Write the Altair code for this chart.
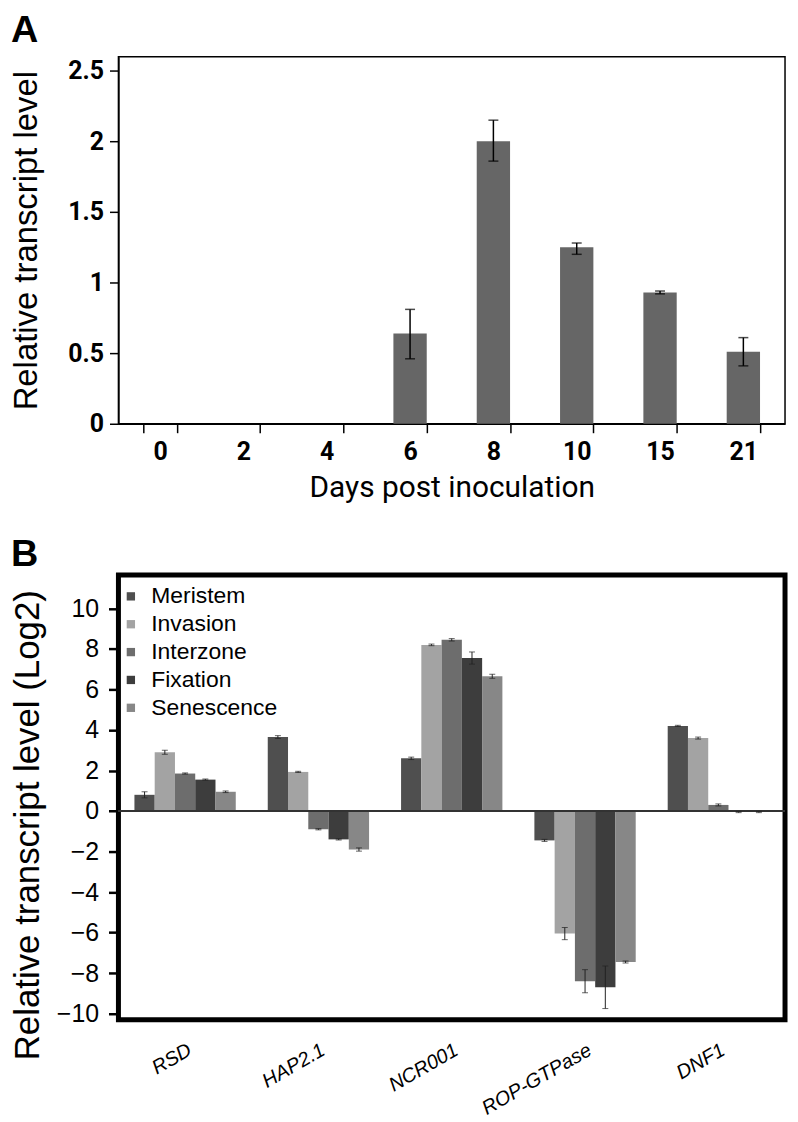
import altair as alt
import pandas as pd

# panel A: time course
days = ["0", "2", "4", "6", "8", "10", "15", "21"]
level = [0, 0, 0, 0.64, 2.0, 1.25, 0.93, 0.51]
level_lo = [0, 0, 0, 0.46, 1.86, 1.20, 0.92, 0.41]
level_hi = [0, 0, 0, 0.81, 2.15, 1.28, 0.94, 0.61]
ticks_a = [0, 0.5, 1, 1.5, 2, 2.5]

# panel B: zones x genes (log2)
genes = ["RSD", "HAP2.1", "NCR001", "ROP-GTPase", "DNF1"]
zones = ["Meristem", "Invasion", "Interzone", "Fixation", "Senescence"]
zone_colors = ["#4f4f4f", "#a3a3a3", "#6d6d6d", "#3d3d3d", "#878787"]
log2 = {
    "Meristem":   [0.8, 3.65, 2.6, -1.45, 4.2],
    "Invasion":   [2.9, 1.93, 8.2, -6.05, 3.6],
    "Interzone":  [1.85, -0.9, 8.45, -8.4, 0.3],
    "Fixation":   [1.55, -1.4, 7.55, -8.7, -0.05],
    "Senescence": [0.95, -1.9, 6.65, -7.45, -0.05],
}
log2_err = {
    "Meristem":   [0.15, 0.07, 0.06, 0.05, 0.03],
    "Invasion":   [0.1, 0.03, 0.04, 0.3, 0.05],
    "Interzone":  [0.03, 0.03, 0.06, 0.57, 0.05],
    "Fixation":   [0.03, 0.03, 0.3, 1.05, 0.03],
    "Senescence": [0.04, 0.08, 0.1, 0.05, 0.03],
}
ticks_b = [-10, -8, -6, -4, -2, 0, 2, 4, 6, 8, 10]

narrow = "Roboto, Liberation Sans, sans-serif"
arial = "Liberation Sans, Arial, sans-serif"

df_a = pd.DataFrame({"day": days, "level": level, "lo": level_lo, "hi": level_hi})

rows = []
for z in zones:
    for g, v, e in zip(genes, log2[z], log2_err[z]):
        rows.append({"gene": g, "zone": z, "v": v, "lo": v - e, "hi": v + e})
df_b = pd.DataFrame(rows)

xa = alt.X("day:N", sort=days, title="Days post inoculation",
           scale=alt.Scale(paddingInner=0.6, paddingOuter=0.3),
           axis=alt.Axis(labelAngle=0, tickBand="extent", labelFont=narrow, labelFontWeight="bold",
                         labelFontSize=25, labelColor="black", labelPadding=7,
                         titleFont=narrow, titleFontSize=30, titleFontWeight="normal",
                         titleColor="black", titlePadding=8, domainColor="black",
                         domainWidth=1.5, tickColor="black", tickWidth=1.5, tickSize=9))
ya_scale = alt.Scale(domain=[0, 2.5])

bars_a = alt.Chart(df_a).mark_bar(color="#666666").encode(
    x=xa,
    y=alt.Y("level:Q", scale=ya_scale, title="Relative transcript level",
            axis=alt.Axis(values=ticks_a, format="~g", grid=False, labelFont=narrow,
                          labelFontWeight="bold", labelFontSize=25, labelColor="black",
                          labelPadding=6, titleFont=arial, titleFontSize=33,
                          titleFontWeight="normal", titleColor="black", titlePadding=13,
                          minExtent=62, maxExtent=62, domainColor="black", domainWidth=1.5,
                          tickColor="black", tickWidth=1.5, tickSize=9))
)
err_a = alt.Chart(df_a[df_a.level > 0]).mark_rule(color="black", strokeWidth=1.5).encode(
    x=alt.X("day:N", sort=days), y="lo:Q", y2="hi:Q")
cap_lo_a = alt.Chart(df_a[df_a.level > 0]).mark_tick(color="black", thickness=1.5, size=10).encode(
    x=alt.X("day:N", sort=days), y="lo:Q")
cap_hi_a = alt.Chart(df_a[df_a.level > 0]).mark_tick(color="black", thickness=1.5, size=10).encode(
    x=alt.X("day:N", sort=days), y="hi:Q")

panel_a = alt.layer(bars_a, err_a, cap_lo_a, cap_hi_a).properties(
    width=670, height=369,
    title=alt.TitleParams("A", anchor="start", frame="bounds", fontSize=38, font=arial,
                          fontWeight="bold", color="black", offset=7),
    view=alt.ViewBackground(stroke="black", strokeWidth=1.5),
)

yb_scale = alt.Scale(domain=[-10.3, 11.65], nice=False)
xb = alt.X("gene:N", sort=genes, title=None,
           scale=alt.Scale(paddingInner=0.24, paddingOuter=0.12),
           axis=alt.Axis(labelAngle=-30, labelAlign="right", labelBaseline="top",
                         labelFont=arial, labelFontStyle="italic", labelFontSize=20,
                         labelColor="black", labelPadding=20, ticks=False, domain=False))
xo = alt.XOffset("zone:N", sort=zones, scale=alt.Scale(paddingInner=0, paddingOuter=0))

# legend coordinates are measured from panel A's plot origin in a vconcat
bars_b = alt.Chart(df_b).mark_bar().encode(
    x=xb, xOffset=xo,
    y=alt.Y("v:Q", scale=yb_scale, title="Relative transcript level (Log2)",
            axis=alt.Axis(values=ticks_b, grid=False, labelFont=arial, labelFontSize=25,
                          labelColor="black", labelPadding=10, titleFont=arial, titleFontSize=35,
                          titleFontWeight="normal", titleColor="black", titlePadding=11,
                          titleY=251, minExtent=62, maxExtent=62, domain=False,
                          tickColor="black", tickWidth=2.5, tickSize=10)),
    color=alt.Color("zone:N", sort=zones, scale=alt.Scale(domain=zones, range=zone_colors),
                    legend=alt.Legend(title=None, orient="none", legendX=1, legendY=531,
                                      padding=0, symbolType="square", symbolSize=70,
                                      symbolStrokeWidth=0, labelFont=arial, labelFontSize=23,
                                      labelColor="black", rowPadding=4, labelOffset=9)),
)
zero_b = alt.Chart(df_b).mark_rule(color="#333333", strokeWidth=1).encode(y=alt.datum(0))
err_b = alt.Chart(df_b).mark_rule(color="#222222", strokeWidth=1).encode(
    x=alt.X("gene:N", sort=genes), xOffset=xo, y="lo:Q", y2="hi:Q")
cap_lo_b = alt.Chart(df_b).mark_tick(color="#222222", thickness=1, size=6).encode(
    x=alt.X("gene:N", sort=genes), xOffset=xo, y="lo:Q")
cap_hi_b = alt.Chart(df_b).mark_tick(color="#222222", thickness=1, size=6).encode(
    x=alt.X("gene:N", sort=genes), xOffset=xo, y="hi:Q")

panel_b = alt.layer(bars_b, zero_b, err_b, cap_lo_b, cap_hi_b).properties(
    width=670, height=447,
    title=alt.TitleParams("B", anchor="start", frame="bounds", fontSize=38, font=arial,
                          fontWeight="bold", color="black", offset=1),
    view=alt.ViewBackground(stroke="black", strokeWidth=5),
)

chart = alt.vconcat(panel_a, panel_b, spacing=30).properties(
    padding={"left": 0, "top": 0, "right": 2, "bottom": 10}
).configure(background="white")

chart.save("out.html", embed_options={"renderer": "svg", "actions": False})
